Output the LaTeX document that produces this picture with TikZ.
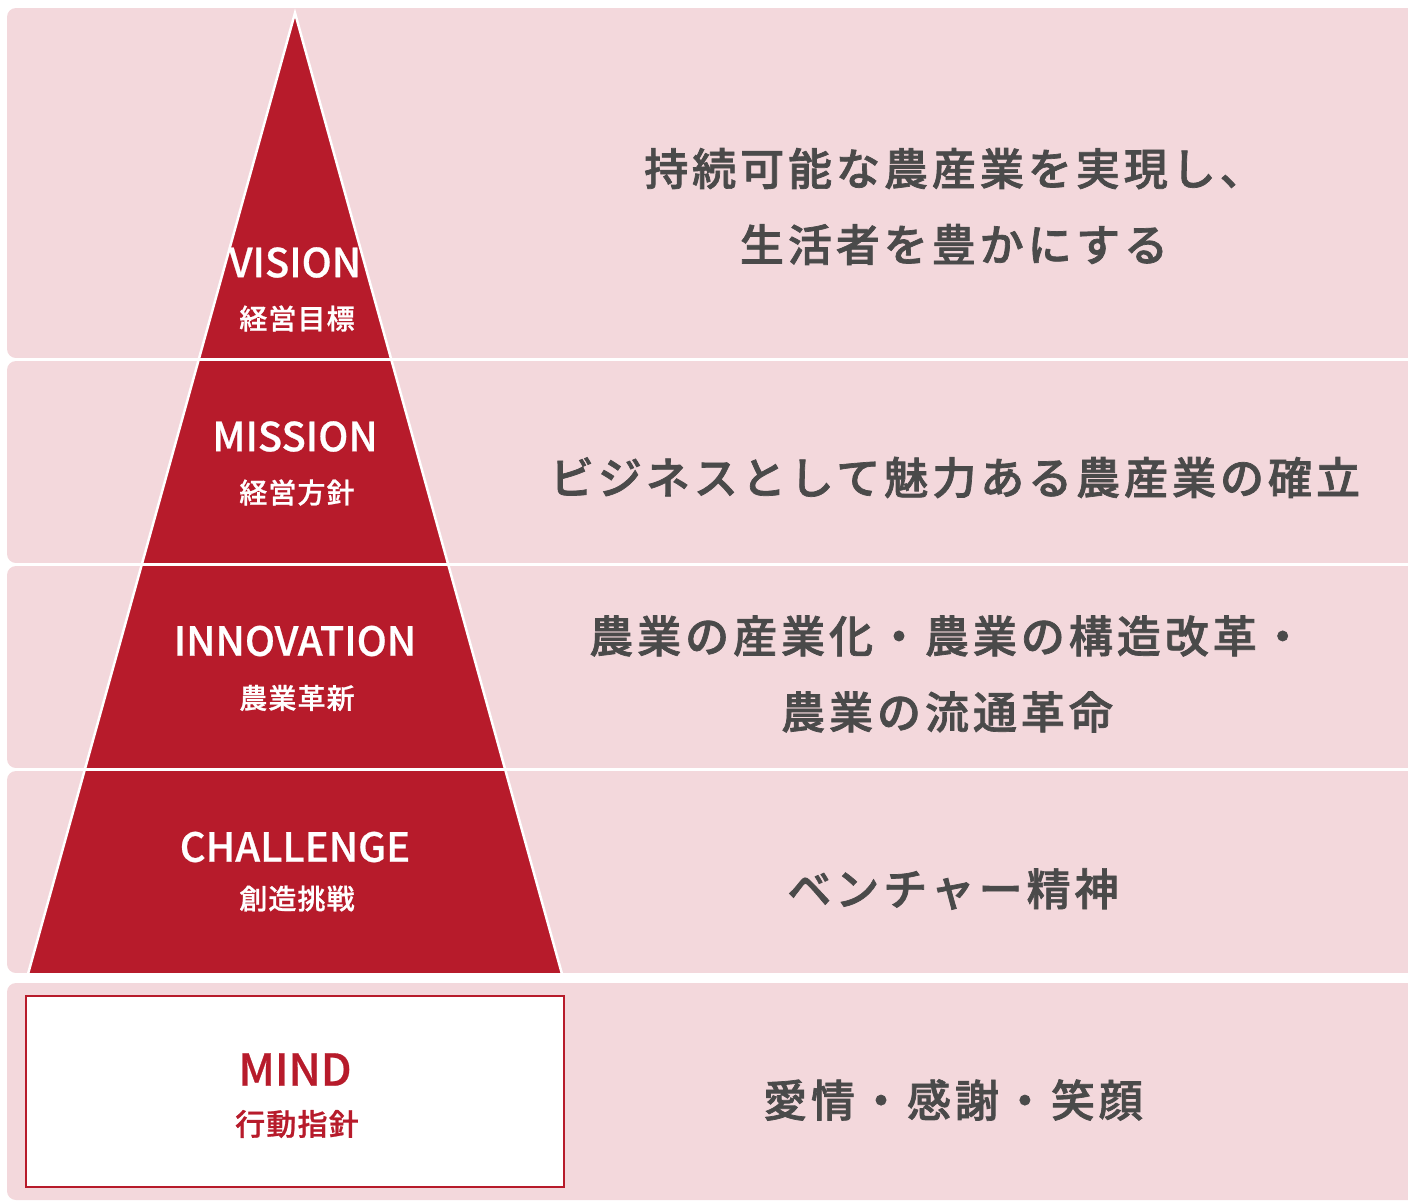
\documentclass[tikz,border=0pt]{standalone}
\usepackage{fontspec}
\setmainfont{Noto Sans CJK JP Medium}
\newfontfamily\jpwide[LetterSpace=9,FakeBold=1.6]{Noto Sans CJK JP Medium}
\newfontfamily\jpnarrow[LetterSpace=4,FakeBold=0.8]{Noto Sans CJK JP Medium}
\newfontfamily\enlabel[FakeBold=0.6]{Noto Sans CJK JP Medium}
\definecolor{pinkbg}{HTML}{F3D8DC}
\definecolor{pyred}{HTML}{B71B2B}
\definecolor{txtgray}{HTML}{4A4A4A}
\begin{document}
\begin{tikzpicture}[x=1pt,y=-1pt,
  band/.style={fill=pinkbg, rounded corners=9pt},
  gap/.style={fill=white},
  entxt/.style={text=white, font=\enlabel\fontsize{40}{44}\selectfont, inner sep=0pt},
  jptxt/.style={text=white, font=\jpnarrow\fontsize{28}{32}\selectfont, inner sep=0pt},
  rtxt/.style={text=txtgray, font=\jpwide\fontsize{44}{76}\selectfont, align=center, inner sep=0pt}]
\useasboundingbox (0,0) rectangle (1408,1202);
\clip (0,0) rectangle (1408,1202);
% bands
\fill[band] (7,8) rectangle (1440,358);
\fill[band] (7,361) rectangle (1440,563);
\fill[band] (7,566) rectangle (1440,768);
\fill[band] (7,771) rectangle (1440,973);
\fill[band] (7,983) rectangle (1440,1200);
% pyramid
\fill[pyred] (295,13) -- (562,973) -- (28,973) -- cycle;
\draw[white, line width=2.5pt, line join=miter] (28,974) -- (295,13) -- (562,974);
% gaps between tiers
\fill[gap] (0,358) rectangle (1408,361);
\fill[gap] (0,563) rectangle (1408,566);
\fill[gap] (0,768) rectangle (1408,771);
\fill[gap] (0,973) rectangle (1408,983);
% MIND box
\draw[pyred, line width=2pt, fill=white] (26,996) rectangle (564,1187);
% tier labels
\node[entxt] (vision) at (295,262.5) {VISION};
\node[jptxt] (visionjp) at (297,318.5) {経営目標};
\node[entxt] (mission) at (295,436.5) {MISSION};
\node[jptxt] (missionjp) at (297,492.5) {経営方針};
\node[entxt] (innov) at (295,641) {INNOVATION};
\node[jptxt] (innovjp) at (297,698) {農業革新};
\node[entxt] (chall) at (295,847) {CHALLENGE};
\node[jptxt] (challjp) at (297,898.5) {創造挑戦};
\node[entxt, text=pyred, font=\enlabel\fontsize{44}{48}\selectfont] (mind) at (295,1069.5) {MIND};
\node[jptxt, text=pyred, font=\jpnarrow\fontsize{30}{34}\selectfont] (mindjp) at (297,1124) {行動指針};
% statements
\node[rtxt] (s1) at (954,206.5) {持続可能な農産業を実現し、\\生活者を豊かにする};
\node[rtxt] (s2) at (955,477.5) {ビジネスとして魅力ある農産業の確立};
\node[rtxt] (s3) at (947,674) {農業の産業化・農業の構造改革・\\農業の流通革命};
\node[rtxt] (s4) at (953,889) {ベンチャー精神};
\node[rtxt] (s5) at (953,1100) {愛情・感謝・笑顔};
\end{tikzpicture}
\end{document}
